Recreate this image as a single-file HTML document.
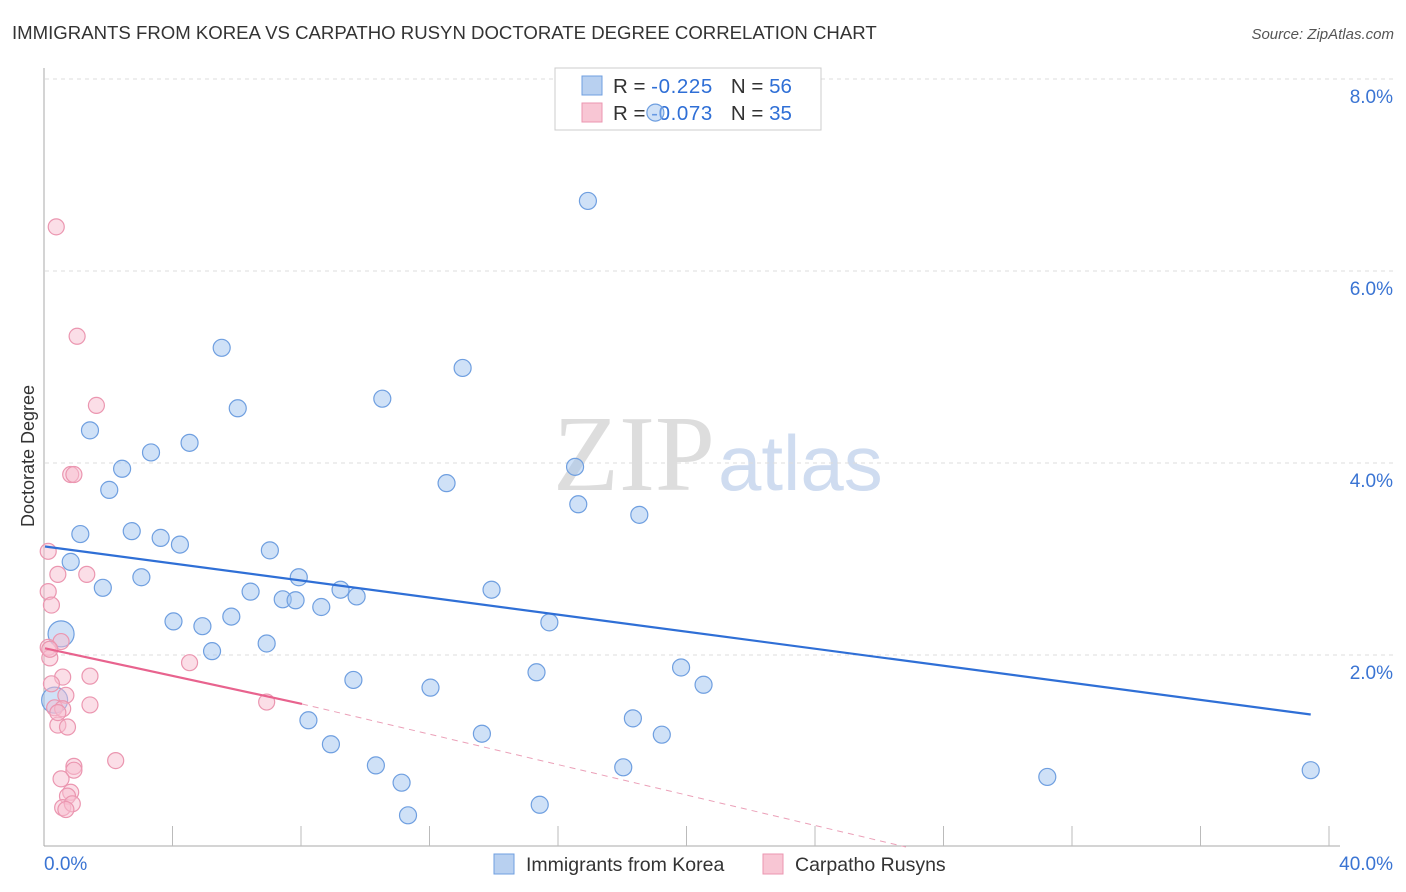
<!DOCTYPE html>
<html><head><meta charset="utf-8"><style>
body{margin:0;background:#fff;font-family:"Liberation Sans",sans-serif}
svg{display:block}
</style></head><body>
<svg id="chart" width="1406" height="892" xmlns="http://www.w3.org/2000/svg">
<text x="12" y="39" font-size="18.6" fill="#333">IMMIGRANTS FROM KOREA VS CARPATHO RUSYN DOCTORATE DEGREE CORRELATION CHART</text>
<text x="1394" y="39" font-size="15" fill="#555" font-style="italic" text-anchor="end">Source: ZipAtlas.com</text>
<text x="34" y="456" font-size="18" fill="#333" text-anchor="middle" transform="rotate(-90 34 456)">Doctorate Degree</text>
<text x="715" y="490" font-size="108" fill="#ddd" text-anchor="end" font-family="Liberation Serif,serif">ZIP</text>
<text x="718" y="490" font-size="78" fill="#cfdcf0">atlas</text>
<g id="grid"></g><g id="axes"></g>
<g>
<rect x="555" y="68" width="266" height="62" fill="#fff" stroke="#ccc"/>
<rect x="582" y="76" width="20" height="19" fill="#b8d0f0" stroke="#6f9fe0"/>
<rect x="582" y="103" width="20" height="19" fill="#f8c6d4" stroke="#eb96b0"/>
<text x="613" y="93" font-size="20.5" fill="#333">R = <tspan fill="#2f6fd6" letter-spacing="0.6">-0.225</tspan><tspan dx="18">N = </tspan><tspan fill="#2f6fd6">56</tspan></text>
<text x="613" y="120" font-size="20.5" fill="#333">R = <tspan fill="#2f6fd6" letter-spacing="0.6">-0.073</tspan><tspan dx="18">N = </tspan><tspan fill="#2f6fd6">35</tspan></text>
</g>
<g id="pts"></g><g id="lines"></g>
<g>
<rect x="494" y="854" width="20" height="20" fill="#b8d0f0" stroke="#6f9fe0"/>
<text x="526" y="871" font-size="19.5" fill="#333">Immigrants from Korea</text>
<rect x="763" y="854" width="20" height="20" fill="#f8c6d4" stroke="#eb96b0"/>
<text x="795" y="871" font-size="19.5" fill="#333">Carpatho Rusyns</text>
</g>
</svg>
<script>
const xTicks=[0,40];
const yTicks=[2,4,6,8];
const koreaX=[19.0,16.9,5.5,13.0,10.5,6.0,1.4,4.5,3.3,2.4,16.5,2.0,12.5,16.6,18.5,2.7,1.1,3.6,4.2,7.0,0.8,3.0,7.9,1.8,13.9,6.4,9.2,9.7,7.4,7.8,8.6,4.0,5.8,15.7,4.9,0.5,6.9,5.2,19.8,15.3,9.6,20.5,12.0,0.3,18.3,8.2,13.6,19.2,8.9,10.3,18.0,31.2,39.4,11.1,15.4,11.3];
const koreaY=[7.65,6.73,5.2,4.99,4.67,4.57,4.34,4.21,4.11,3.94,3.96,3.72,3.79,3.57,3.46,3.29,3.26,3.22,3.15,3.09,2.97,2.81,2.81,2.7,2.68,2.66,2.68,2.61,2.58,2.57,2.5,2.35,2.4,2.34,2.3,2.22,2.12,2.04,1.87,1.82,1.74,1.69,1.66,1.53,1.34,1.32,1.18,1.17,1.07,0.85,0.83,0.73,0.8,0.67,0.44,0.33];
const rusynX=[0.35,1.0,1.6,0.8,0.9,0.1,0.4,1.3,0.1,0.2,0.5,0.1,0.15,4.5,1.4,0.55,0.2,0.65,1.4,0.3,0.55,6.9,0.4,0.7,2.2,0.9,0.9,0.5,0.8,0.7,0.55,0.85,0.65,0.15,0.4];
const rusynY=[6.46,5.32,4.6,3.88,3.88,3.08,2.84,2.84,2.66,2.52,2.14,2.08,1.97,1.92,1.78,1.77,1.70,1.58,1.48,1.45,1.44,1.51,1.27,1.25,0.90,0.84,0.80,0.71,0.57,0.53,0.41,0.45,0.39,2.06,1.40];
const koreaTrend=[3.13,1.38];
const rusynTrend=[2.07,1.49];
const rusynDashEnd=[26.8,0];
const NS="http://www.w3.org/2000/svg";
const X=v=>45+v/40*1285, Y=v=>847-v*96;
function mk(t,a,p){const e=document.createElementNS(NS,t);for(const k in a)e.setAttribute(k,a[k]);document.getElementById(p).appendChild(e);return e;}
yTicks.forEach(t=>{
 let l=mk('line',{x1:45,x2:1395,y1:Y(t),y2:Y(t),stroke:'#ddd','stroke-dasharray':'4,4'},'grid');
 
 
 let tx=mk('text',{x:1393,y:Y(t)+24,'font-size':19,fill:'#3a74d3','text-anchor':'end'},'grid');tx.textContent=t.toFixed(1)+'%';
 
 
});
mk('line',{x1:44,x2:44,y1:68,y2:846,stroke:'#aaa'},'axes');
mk('line',{x1:44,x2:1340,y1:846,y2:846,stroke:'#aaa'},'axes');
for(let i=1;i<=10;i++){mk('line',{x1:X(i*4)-1,x2:X(i*4)-1,y1:826,y2:846,stroke:'#bbb'},'axes');}
xTicks.forEach((t,i)=>{let tx=mk('text',{x:i?1393:44,y:870,'font-size':19,fill:'#3a74d3','text-anchor':i?'end':'start'},'axes');tx.textContent=t.toFixed(1)+'%';
 
 });
koreaX.forEach((x,i)=>{const big=(i==35||i==43);let c=mk('circle',{cx:X(x),cy:Y(koreaY[i]),r:big?13:8.5,fill:'rgba(160,195,240,0.5)',stroke:'#6f9fe0','stroke-width':1.2},'pts');
 
 });
rusynX.forEach((x,i)=>{let c=mk('circle',{cx:X(x),cy:Y(rusynY[i]),r:8,fill:'rgba(248,190,208,0.5)',stroke:'#eb96b0','stroke-width':1.2},'pts');
 
 });
let bl=mk('line',{x1:X(0),y1:Y(koreaTrend[0]),x2:X(39.4),y2:Y(koreaTrend[1]),stroke:'#2f6fd6','stroke-width':2.2},'lines');


let pl=mk('line',{x1:X(0),y1:Y(rusynTrend[0]),x2:X(8),y2:Y(rusynTrend[1]),stroke:'#e8638e','stroke-width':2.2},'lines');


let pd=mk('line',{x1:X(8),y1:Y(rusynTrend[1]),x2:X(rusynDashEnd[0]),y2:Y(rusynDashEnd[1]),stroke:'#eba0b8','stroke-width':1,'stroke-dasharray':'6,5'},'lines');


</script>
</body></html>
